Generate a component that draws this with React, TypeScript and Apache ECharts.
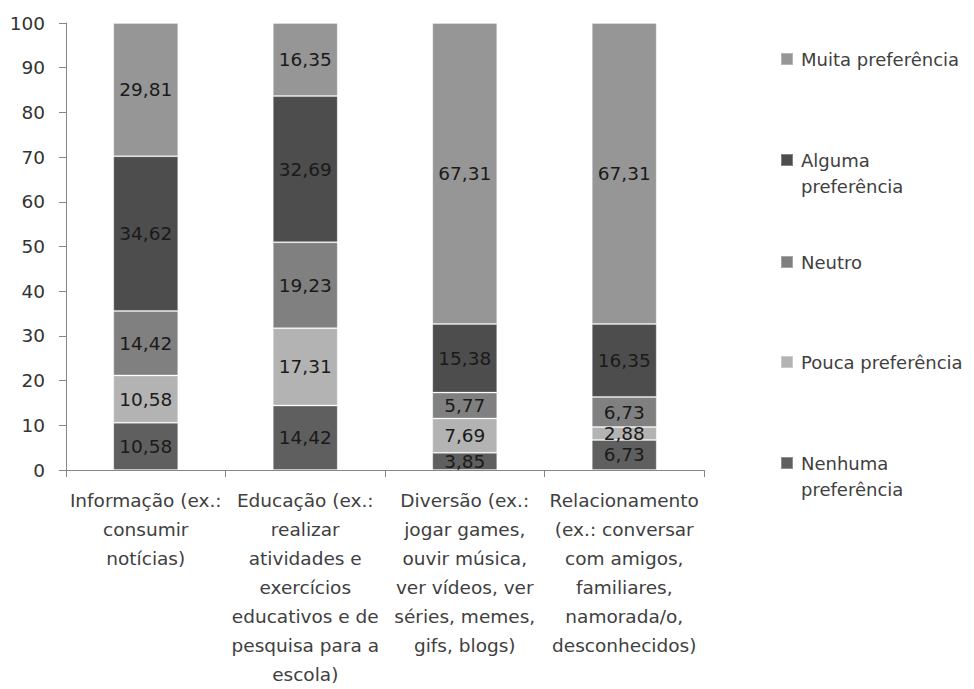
import React, { useEffect, useRef } from "react";
import * as echarts from "echarts";

const categories = [
  "Informação (ex.:\nconsumir\nnotícias)",
  "Educação (ex.:\nrealizar\natividades e\nexercícios\neducativos e de\npesquisa para a\nescola)",
  "Diversão (ex.:\njogar games,\nouvir música,\nver vídeos, ver\nséries, memes,\ngifs, blogs)",
  "Relacionamento\n(ex.: conversar\ncom amigos,\nfamiliares,\nnamorada/o,\ndesconhecidos)",
];

const seriesNames = [
  "Nenhuma preferência",
  "Pouca preferência",
  "Neutro",
  "Alguma preferência",
  "Muita preferência",
];

const nenhuma = [10.58, 14.42, 3.85, 6.73];
const pouca = [10.58, 17.31, 7.69, 2.88];
const neutro = [14.42, 19.23, 5.77, 6.73];
const alguma = [34.62, 32.69, 15.38, 16.35];
const muita = [29.81, 16.35, 67.31, 67.31];

const seriesValues = [nenhuma, pouca, neutro, alguma, muita];
const colors = ["#5f5f5f", "#b3b3b3", "#808080", "#4d4d4d", "#969696"];

const legendLabels: Record<string, string> = {
  "Muita preferência": "Muita preferência",
  "Alguma preferência": " \nAlguma\npreferência",
  Neutro: "Neutro",
  "Pouca preferência": "Pouca preferência",
  "Nenhuma preferência": " \nNenhuma\npreferência",
};

const FONT = "DejaVu Sans";

export default function App() {
  const ref = useRef<HTMLDivElement>(null);

  useEffect(() => {
    if (!ref.current) return;
    const chart = echarts.init(ref.current, undefined, { renderer: "svg" });

    const legendOrder = [
      { name: "Muita preferência", y: 59 },
      { name: "Alguma preferência", y: 160 },
      { name: "Neutro", y: 262 },
      { name: "Pouca preferência", y: 362 },
      { name: "Nenhuma preferência", y: 463 },
    ];
    const LH = 26;
    const legends = legendOrder.map((l) => {
      const lines = legendLabels[l.name].split("\n").length;
      const boxH = LH * lines;
      return {
        orient: "vertical",
        left: 780,
        top: l.y - boxH / 2,
        padding: 0,
        data: [l.name],
        itemWidth: 12,
        itemHeight: 12,
        icon: "rect",
        selectedMode: false,
        formatter: (n: string) => legendLabels[n],
        textStyle: {
          fontFamily: FONT,
          fontSize: 18,
          color: "#404040",
          lineHeight: LH,
          padding: [0, 0, 0, 3],
        },
      };
    });

    chart.setOption({
      animation: false,
      backgroundColor: "#ffffff",
      legend: legends,
      grid: { left: 66, top: 23, right: 270, bottom: 213, containLabel: false },
      xAxis: {
        type: "category",
        data: categories,
        axisLine: { lineStyle: { color: "#868686", width: 1 } },
        axisTick: { show: true, length: 7, lineStyle: { color: "#868686" } },
        axisLabel: {
          interval: 0,
          fontFamily: FONT,
          fontSize: 18.5,
          color: "#404040",
          lineHeight: 29,
          margin: 16,
        },
      },
      yAxis: {
        type: "value",
        min: 0,
        max: 100,
        interval: 10,
        splitLine: { show: false },
        axisLine: { show: true, lineStyle: { color: "#868686", width: 1 } },
        axisTick: { show: true, length: 7, lineStyle: { color: "#868686" } },
        axisLabel: {
          fontFamily: FONT,
          fontSize: 18.5,
          color: "#333333",
          margin: 21,
        },
      },
      series: seriesNames.map((name, i) => ({
        name,
        type: "bar",
        stack: "total",
        barWidth: 65,
        data: seriesValues[i],
        itemStyle: {
          color: colors[i],
          borderColor: "rgba(255,255,255,0.3)",
          borderWidth: 1,
        },
        label: {
          show: true,
          position: "inside",
          fontFamily: FONT,
          fontSize: 18.5,
          color: "#1a1a1a",
          formatter: (p: any) => Number(p.value).toFixed(2).replace(".", ","),
        },
      })),
    });

    return () => chart.dispose();
  }, []);

  return (
    <div
      ref={ref}
      style={{ position: "fixed", left: 0, top: 0, width: 974, height: 689 }}
    />
  );
}
